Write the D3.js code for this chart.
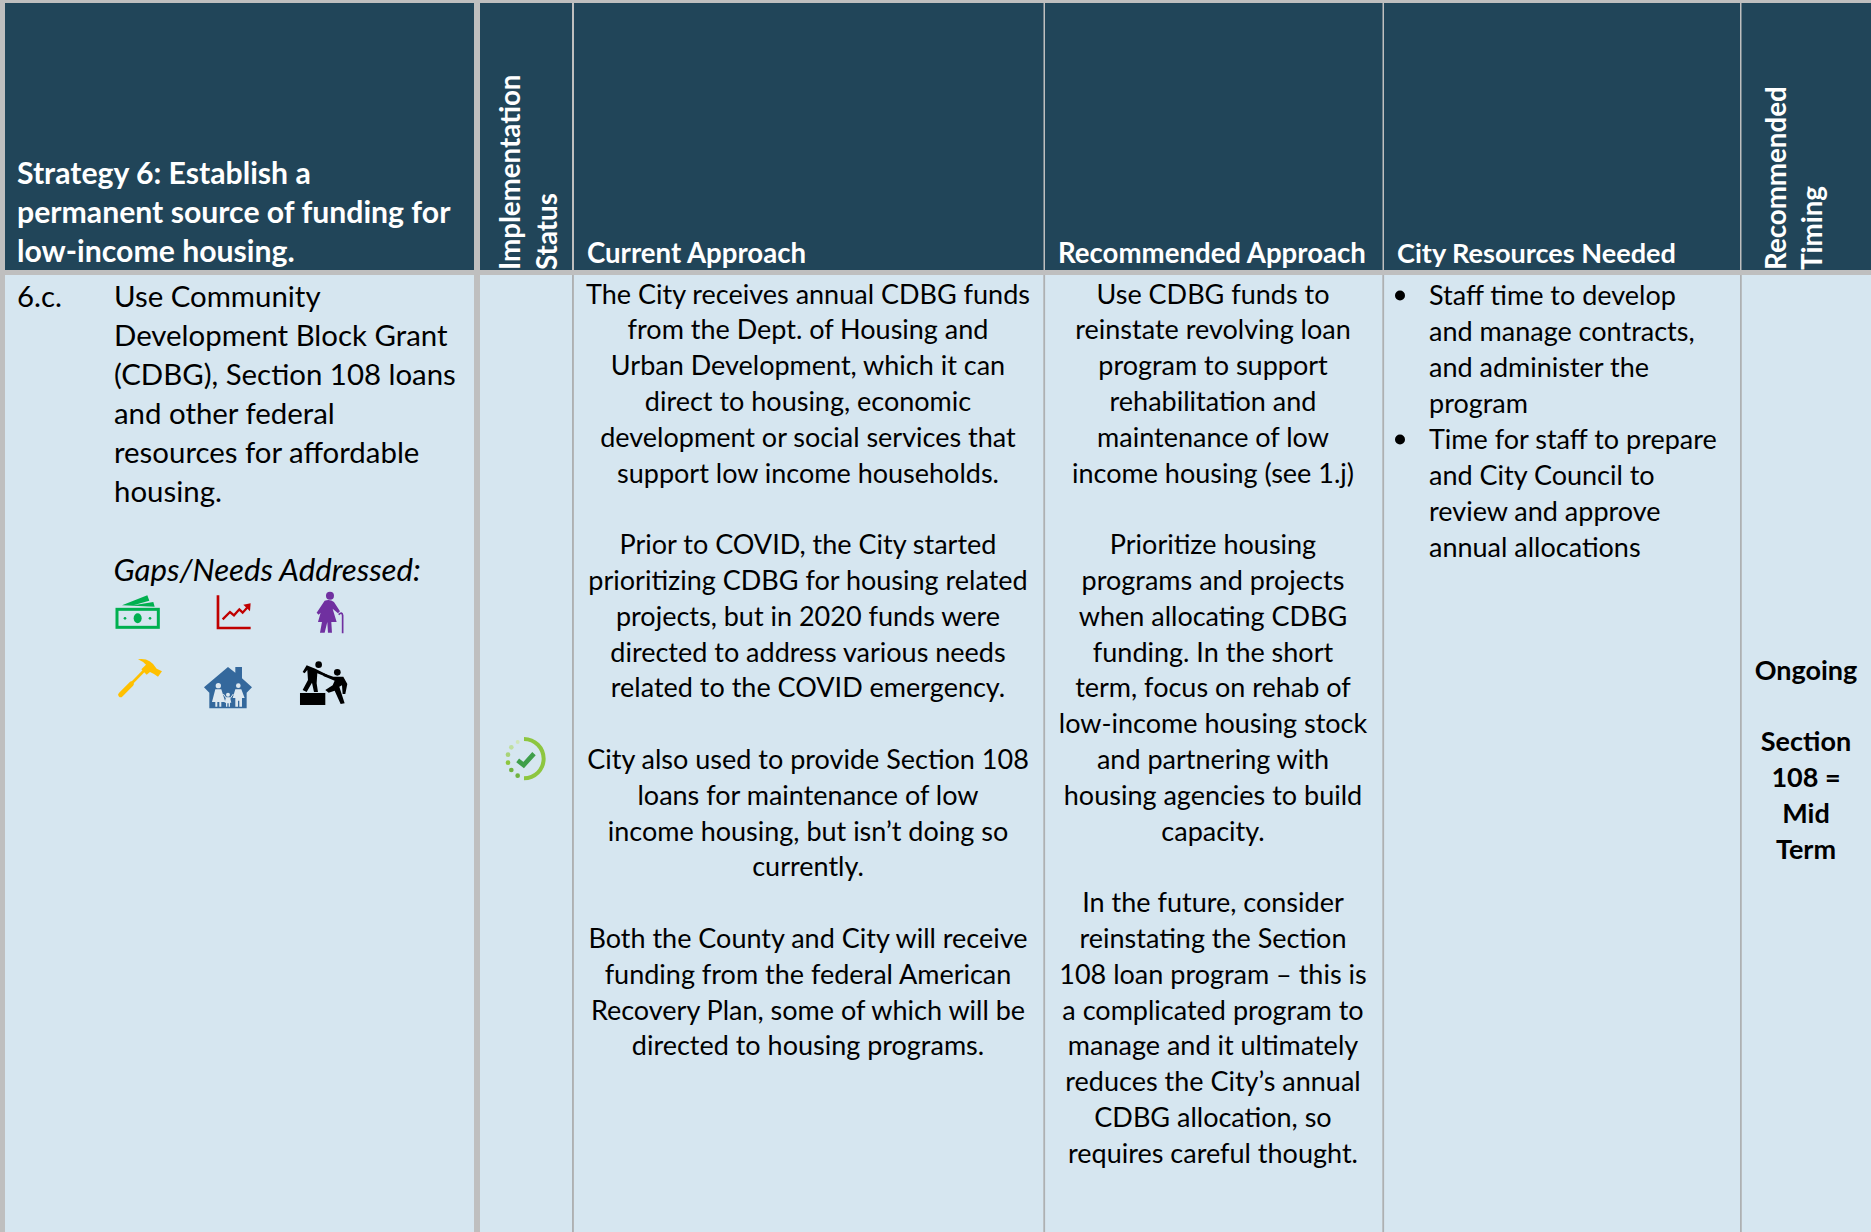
<!DOCTYPE html>
<html>
<head>
<meta charset="utf-8">
<style>
  html, body { margin: 0; padding: 0; background: #bfbfbf; }
  svg { display: block; }
  text { font-family: Lato, "Open Sans", sans-serif; }
</style>
<script src="https://cdn.jsdelivr.net/npm/d3@7"></script>
</head>
<body>
<div id="canvas"></div>
<script>
// table text, one entry per printed line, "" is a blank line
const headerStrategy = ["Strategy 6: Establish a", "permanent source of funding for", "low-income housing."];
const headerStatus = ["Implementation", "Status"];
const headerTiming = ["Recommended", "Timing"];
const headerCurrent = "Current Approach";
const headerRecommended = "Recommended Approach";
const headerResources = "City Resources Needed";

const itemNumber = "6.c.";
const itemLines = ["Use Community", "Development Block Grant", "(CDBG), Section 108 loans", "and other federal", "resources for affordable", "housing."];
const gapsLabel = "Gaps/Needs Addressed:";

const currentLines = [
  "The City receives annual CDBG funds", "from the Dept. of Housing and", "Urban Development, which it can",
  "direct to housing, economic", "development or social services that", "support low income households.", "",
  "Prior to COVID, the City started", "prioritizing CDBG for housing related", "projects, but in 2020 funds were",
  "directed to address various needs", "related to the COVID emergency.", "",
  "City also used to provide Section 108", "loans for maintenance of low", "income housing, but isn’t doing so", "currently.", "",
  "Both the County and City will receive", "funding from the federal American", "Recovery Plan, some of which will be", "directed to housing programs."
];
const recommendedLines = [
  "Use CDBG funds to", "reinstate revolving loan", "program to support", "rehabilitation and",
  "maintenance of low", "income housing (see 1.j)", "",
  "Prioritize housing", "programs and projects", "when allocating CDBG", "funding. In the short",
  "term, focus on rehab of", "low-income housing stock", "and partnering with", "housing agencies to build", "capacity.", "",
  "In the future, consider", "reinstating the Section", "108 loan program – this is", "a complicated program to",
  "manage and it ultimately", "reduces the City’s annual", "CDBG allocation, so", "requires careful thought."
];
const resourceLines = [
  "Staff time to develop", "and manage contracts,", "and administer the", "program",
  "Time for staff to prepare", "and City Council to", "review and approve", "annual allocations"
];
const bulletLines = [0, 4];
const timingLines = ["Ongoing", "", "Section", "108 =", "Mid", "Term"];

const width = 1871, height = 1232;
const grey = "#bfbfbf", rule = "#adb0b2", navy = "#214559", pale = "#d6e6f0";
const headTop = 3, headBottom = 270, bodyTop = 275;
const size = 27, headSize = 27.6, bigSize = 29.4;

const svg = d3.select("#canvas").append("svg").attr("width", width).attr("height", height);
svg.append("rect").attr("width", width).attr("height", height).attr("fill", grey);

// cells: [x0, x1]
const cells = [[5, 474], [480, 572], [574, 1043.5], [1045, 1382.5], [1384, 1740], [1741.5, width]];

svg.selectAll("rect.head").data(cells).enter().append("rect")
  .attr("class", "head")
  .attr("x", d => d[0]).attr("y", headTop)
  .attr("width", d => d[1] - d[0]).attr("height", headBottom - headTop)
  .attr("fill", navy);
svg.selectAll("rect.body").data(cells).enter().append("rect")
  .attr("class", "body")
  .attr("x", d => d[0]).attr("y", bodyTop)
  .attr("width", d => d[1] - d[0]).attr("height", height - bodyTop)
  .attr("fill", pale);
svg.selectAll("rect.rule").data(cells.slice(1, 5)).enter().append("rect")
  .attr("class", "rule")
  .attr("x", d => d[1]).attr("y", bodyTop)
  .attr("width", 1.6).attr("height", height - bodyTop)
  .attr("fill", rule);

// line index -> baseline
const bodyY = d3.scaleLinear().domain([0, 1]).range([303.5, 339.3]);
const resourceY = d3.scaleLinear().domain([0, 1]).range([304.5, 340.5]);
const itemY = d3.scaleLinear().domain([0, 1]).range([306.5, 345.6]);
const timingY = d3.scaleLinear().domain([0, 1]).range([679.5, 715.3]);
const stratY = d3.scaleLinear().domain([0, 1]).range([183.5, 222.5]);

function lines(rows, x, y, fs, anchor, weight, fill) {
  svg.append("g").selectAll("text").data(rows).enter().append("text")
    .attr("x", x).attr("y", (d, i) => y(i))
    .attr("text-anchor", anchor)
    .attr("font-size", fs).attr("font-weight", weight).attr("fill", fill)
    .text(d => d);
}

function rotated(rows, xs) {
  svg.append("g").selectAll("text").data(rows).enter().append("text")
    .attr("transform", (d, i) => "translate(" + xs[i] + ",270) rotate(-90)")
    .attr("font-size", 27.7).attr("font-weight", 700).attr("fill", "#fff")
    .text(d => d);
}

// header
lines(headerStrategy, 17, stratY, 30.2, "start", 700, "#fff");
lines([headerCurrent], 587, () => 262.5, headSize, "start", 700, "#fff");
lines([headerRecommended], 1058, () => 262.5, headSize, "start", 700, "#fff");
lines([headerResources], 1397, () => 262.5, headSize - 0.5, "start", 700, "#fff");
rotated(headerStatus, [520, 557]);
rotated(headerTiming, [1785.5, 1822]);

// body
lines([itemNumber], 17, itemY, bigSize, "start", 400, "#000");
lines(itemLines, 114, itemY, bigSize, "start", 400, "#000");
svg.append("text").attr("x", 113.5).attr("y", 580.5).attr("font-size", 31.2)
  .attr("font-style", "italic").attr("fill", "#000").text(gapsLabel);

lines(currentLines, 808, bodyY, size, "middle", 400, "#000");
lines(recommendedLines, 1213, bodyY, size, "middle", 400, "#000");
lines(resourceLines, 1429, resourceY, size, "start", 400, "#000");
svg.append("g").selectAll("circle").data(bulletLines).enter().append("circle")
  .attr("cx", 1400).attr("cy", d => resourceY(d) - 9).attr("r", 5).attr("fill", "#000");
lines(timingLines, 1806, timingY, size, "middle", 700, "#000");

// status icon, drawn in zoomed units around the check mark
const status = svg.append("g").attr("transform", "translate(480,719) scale(0.3333)");
const arc = d3.arc().innerRadius(53).outerRadius(65).startAngle(0).endAngle(Math.PI);
status.append("path").attr("transform", "translate(132,119)").attr("d", arc()).attr("fill", "#8dc63f");
status.append("path").attr("d", "M113,124 L131,138 L162,104").attr("fill", "none").attr("stroke", "#3f9f4a").attr("stroke-width", 14);
const dots = [[113, 170, "#6fb33f", 7], [94, 153, "#6fb33f", 7], [84, 131, "#8dc63f", 7], [84, 107, "#a8d377", 7], [94, 85, "#bfdf9f", 7], [113, 69, "#cfe6b7", 6]];
status.selectAll("circle").data(dots).enter().append("circle")
  .attr("cx", d => d[0]).attr("cy", d => d[1]).attr("r", d => d[3]).attr("fill", d => d[2]);

// gap icons, same zoomed units
const icons = svg.append("g").attr("transform", "translate(90,570) scale(0.3333)");
// money
icons.append("rect").attr("x", 81).attr("y", 118).attr("width", 124).attr("height", 54).attr("fill", "none").attr("stroke", "#00b050").attr("stroke-width", 9);
icons.append("ellipse").attr("cx", 143).attr("cy", 145).attr("rx", 12).attr("ry", 15).attr("fill", "#00b050");
icons.append("circle").attr("cx", 105).attr("cy", 145).attr("r", 4).attr("fill", "#00b050");
icons.append("circle").attr("cx", 180).attr("cy", 145).attr("r", 4).attr("fill", "#00b050");
icons.append("path").attr("d", "M96,106 L172,76 L178,92 L130,106 L190,96 L194,110 Z").attr("fill", "#00b050");
// trend chart
icons.append("path").attr("d", "M384,76 V174 H482").attr("fill", "none").attr("stroke", "#c00000").attr("stroke-width", 8);
icons.append("path").attr("d", "M398,148 L420,126 L432,136 L448,118 L458,128 L476,108").attr("fill", "none").attr("stroke", "#c00000").attr("stroke-width", 7);
icons.append("path").attr("d", "M460,104 L482,100 L480,124 Z").attr("fill", "#c00000");
// elderly woman
icons.append("circle").attr("cx", 720).attr("cy", 77).attr("r", 12).attr("fill", "#7030a0");
icons.append("path").attr("d", "M704,92 Q720,86 732,96 L750,124 L744,130 L728,116 L740,156 L724,156 L726,188 L714,188 L712,156 L704,188 L690,188 L696,156 L684,156 L692,128 L686,134 L680,128 Z").attr("fill", "#7030a0");
icons.append("path").attr("d", "M746,134 Q756,124 758,136 V190").attr("fill", "none").attr("stroke", "#7030a0").attr("stroke-width", 5);
// hammer
icons.append("path").attr("d", "M92,374 L164,300").attr("stroke", "#ffc000").attr("stroke-width", 8).attr("fill", "none");
icons.append("path").attr("d", "M92,374 L124,342").attr("stroke", "#ffc000").attr("stroke-width", 15).attr("stroke-linecap", "round").attr("fill", "none");
icons.append("path").attr("d", "M144,268 Q180,262 200,296 L216,304 L204,320 L192,312 L180,306 L170,314 L154,298 L168,284 Q158,274 144,268 Z").attr("fill", "#ffc000");
// house with family
icons.append("path").attr("d", "M414,291 L436,308 V291 H456 V325 L486,352 L470,368 V415 H358 V368 L342,352 Z").attr("fill", "#34689c");
icons.append("g").attr("fill", "#dfe9f0").call(g => {
  [[385, 347, 8], [445, 347, 7], [414, 374, 6]].forEach(c => g.append("circle").attr("cx", c[0]).attr("cy", c[1]).attr("r", c[2]));
  g.append("path").attr("d", "M376,358 H394 L406,396 H394 V410 H388 V396 H382 V410 H376 V396 H366 Z");
  g.append("path").attr("d", "M436,358 H454 L464,384 H456 V410 H448 V392 H444 V410 H436 V384 H428 Z");
  g.append("path").attr("d", "M408,382 H420 L424,398 H420 V410 H416 V400 H412 V410 H408 V398 H404 Z");
  g.append("path").attr("d", "M400,372 L410,386 M430,372 L420,386").attr("stroke", "#dfe9f0").attr("stroke-width", 3);
});
// helping hand
icons.append("rect").attr("x", 630).attr("y", 369).attr("width", 76).attr("height", 36).attr("fill", "#000");
icons.append("circle").attr("cx", 686).attr("cy", 284).attr("r", 10).attr("fill", "#000");
icons.append("circle").attr("cx", 742).attr("cy", 307).attr("r", 10).attr("fill", "#000");
icons.append("path").attr("d", "M650,286 L676,296 L712,314 L708,320 L682,310 L680,340 L684,366 L672,366 L666,338 L650,366 L638,360 L654,330 L652,300 L644,310 L638,306 Z").attr("fill", "#000");
icons.append("path").attr("d", "M700,310 L730,320 L760,320 L772,342 L766,372 L758,372 L756,346 L748,350 L764,400 L752,402 L734,362 L716,368 L706,360 L728,346 L734,332 L700,318 Z").attr("fill", "#000");
</script>
</body>
</html>
